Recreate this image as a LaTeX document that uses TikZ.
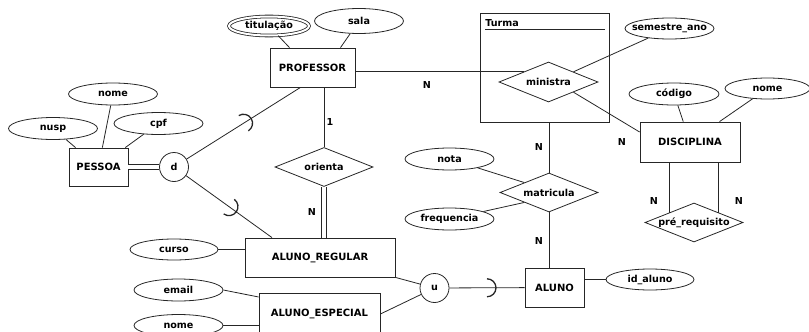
\documentclass[tikz,border=0pt]{standalone}
\usepackage{fontspec}
\setmainfont{DejaVu Sans}
\usetikzlibrary{positioning,calc}
\usetikzlibrary{shapes.geometric,decorations.markings}
\tikzset{entity/.style={draw,rectangle,inner sep=0pt,font=\bfseries\fontsize{10}{12}\selectfont}}
\tikzset{attrib/.style={draw,ellipse,inner xsep=-30pt,inner ysep=0pt,minimum width=89pt,minimum height=22pt,font=\bfseries\fontsize{9.6}{11}\selectfont}}
\tikzset{relat/.style={draw,diamond,aspect=2.5,inner xsep=-40pt,inner ysep=0pt,minimum width=98pt,minimum height=39pt,font=\bfseries\fontsize{9.6}{11}\selectfont}}
\tikzset{spec/.style={draw,circle,minimum size=29pt,inner sep=0pt,font=\bfseries\fontsize{9.6}{11}\selectfont}}
\tikzset{card/.style={inner sep=0pt,font=\bfseries\fontsize{9.6}{11}\selectfont}}
\tikzset{subset/.style={postaction={decorate},decoration={markings,mark=at position #1 with {\draw[line width=1.3pt] (0,-9pt) arc (-90:90:9pt);}}}}

\begin{document}
\begin{tikzpicture}[x=1pt,y=-1pt,line width=0.8pt,draw=black!85]
  \useasboundingbox (0,0) rectangle (809,332);

  % entidades
  \node[entity,minimum width=59pt,minimum height=38pt] (pessoa) at (98.5,167) {PESSOA};
  \node[entity,minimum width=85pt,minimum height=39pt] (prof) at (312.5,67.5) {PROFESSOR};
  \node[draw,rectangle,minimum width=129pt,minimum height=109pt] (turma) at (544.5,67.5) {};
  \node[entity,minimum width=100pt,minimum height=40pt] (disc) at (690,142) {DISCIPLINA};
  \node[entity,minimum width=150pt,minimum height=39pt] (ar) at (320,257.5) {ALUNO\_REGULAR};
  \node[entity,minimum width=121pt,minimum height=42pt] (ae) at (319.5,314) {ALUNO\_ESPECIAL};
  \node[entity,minimum width=59pt,minimum height=39pt] (aluno) at (554.5,287.5) {ALUNO};

  \node[card,anchor=base west] (ttl) at (485,27) {Turma};
  \coordinate (ul) at ([yshift=-2.5pt]ttl.base west);
  \draw (ul) -- ([xshift=-4pt]ul -| turma.east);

  % relacionamentos
  \node[relat,minimum width=99pt,minimum height=40pt] (min) at (548.5,82) {ministra};
  \node[relat] (ori) at (324,167) {orienta};
  \node[relat] (mat) at (549,192.5) {matricula};
  \node[relat] (pre) at (694,222.5) {pré\_requisito};

  \node[spec] (d) at (174,167) {d};
  \node[spec] (u) at (434.5,288) {u};

  % atributos
  \node[attrib] (nomeP) at (113,94) {nome};
  \node[attrib] (nusp) at (53,128.5) {nusp};
  \node[attrib] (cpf) at (158.5,123.5) {cpf};
  \node[attrib,double,double distance=2pt,minimum width=80pt,minimum height=19pt] (tit) at (269,26) {titulação};
  \node[attrib,minimum height=25pt] (sala) at (359,21) {sala};
  \node[attrib,minimum height=21pt] (sem) at (669.5,28.5) {semestre\_ano};
  \node[attrib,minimum width=90pt] (cod) at (674,94) {código};
  \node[attrib,minimum width=85pt,minimum height=21pt] (nomeD) at (767.5,88.5) {nome};
  \node[attrib] (nota) at (449.5,159) {nota};
  \node[attrib] (freq) at (449.5,219) {frequencia};
  \node[attrib,minimum width=88pt,minimum height=21pt] (idal) at (650,279.5) {id\_aluno};
  \node[attrib,minimum width=88pt,minimum height=21pt] (curso) at (174,249.5) {curso};
  \node[attrib] (email) at (178.5,290) {email};
  \node[attrib] (nomeE) at (178.5,325.5) {nome};

  % cardinalidades
  \foreach \nm/\x/\y in {n1/427/85, n2/312/212, n3/539/147, n4/622/142, n5/539/241, n6/654/201, n7/739/201}
    \node[card] (\nm) at (\x,\y) {N};
  \node[card] (one) at (330,122) {1};

  % ligacoes
  \draw (nusp) -- (pessoa);
  \draw (nomeP) -- (pessoa);
  \draw (cpf) -- (pessoa);
  \draw[double,double distance=3.5pt] (pessoa.east) -- (d.west);
  \draw[subset=.5] (d) -- ([xshift=-12pt]prof.south);
  \draw[subset=.5] (d) -- ([xshift=-48pt]ar.north);
  \draw (tit) -- ([xshift=-23pt]prof.north);
  \draw (sala) -- ([xshift=28pt]prof.north);
  \coordinate (mw) at ($(min.west)!.5!(min.north)$);
  \draw (prof.east |- mw) -- (mw);
  \draw (min.north east) -- (sem);
  \draw (min.south east) -- ([yshift=10pt]disc.west);
  \draw (cod) -- (disc);
  \draw (nomeD) -- (disc);
  \draw (pre.north west |- disc.south) -- (pre.north west);
  \draw (pre.north east |- disc.south) -- (pre.north east);
  \draw (ori.north |- prof.south) -- (ori.north);
  \draw[double,double distance=3.5pt] (ori.south) -- (ori.south |- ar.north);
  \draw (mat.north |- turma.south) -- (mat.north);
  \draw (nota) -- (mat.north west);
  \draw (freq) -- (mat.south west);
  \draw (mat.south) -- (mat.south |- aluno.north);
  \draw (aluno.east |- idal.west) -- (idal.west);
  \draw[subset=.5] (u) -- (aluno);
  \draw (ar.south east) -- (u);
  \draw (ae.east) -- (u);
  \draw (curso.east) -- (curso.east -| ar.west);
  \draw (email.east) -- ([yshift=17pt]ae.west);
  \draw (nomeE.east) -- (nomeE.east -| ae.west);
\end{tikzpicture}
\end{document}
